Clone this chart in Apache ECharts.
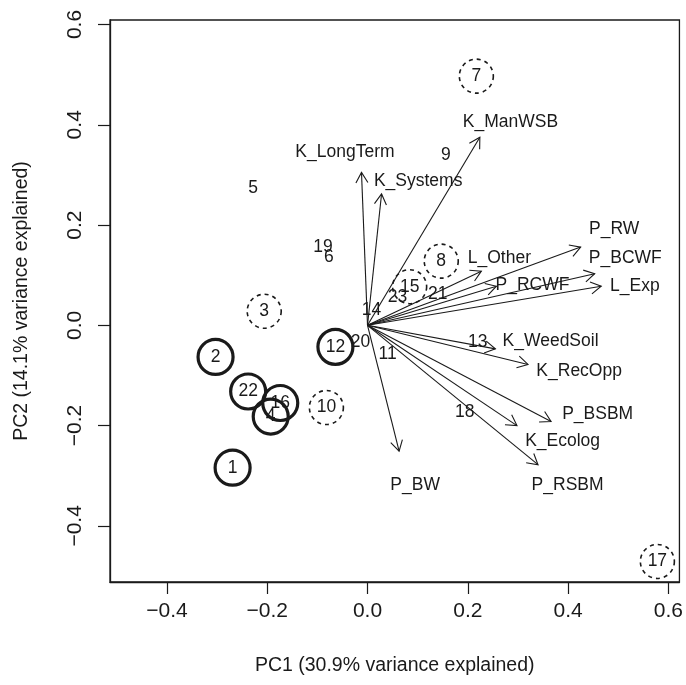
<!DOCTYPE html>
<html>
<head>
<meta charset="utf-8">
<script src="https://cdn.jsdelivr.net/npm/echarts@6/dist/echarts.min.js"></script>
<style>
html,body{margin:0;padding:0;background:#fff;}
#chart{width:686px;height:685px;}
</style>
</head>
<body>
<div id="chart"></div>
<script>
// ---- sample scores (PC1, PC2) ----
var sampleIds = ['1','2','3','4','5','6','7','8','9','10','11','12','13','14','15','16','17','18','19','20','21','22','23'];
var samplePC1 = [-0.269,-0.303,-0.206,-0.193,-0.228,-0.077,0.217,0.147,0.156,-0.082,0.040,-0.064,0.220,0.008,0.084,-0.174,0.578,0.194,-0.089,-0.014,0.140,-0.238,0.060];
var samplePC2 = [-0.284,-0.063,0.028,-0.182,0.274,0.135,0.497,0.128,0.340,-0.164,-0.058,-0.043,-0.033,0.031,0.077,-0.155,-0.471,-0.174,0.155,-0.033,0.063,-0.132,0.057];
// circled groups
var solidCircled = ['1','2','4','12','16','22'];
var dashedCircled = ['3','7','8','10','15','17'];

// ---- variable loadings (arrow tips) and label positions ----
var varNames  = ['K_LongTerm','K_Systems','K_ManWSB','L_Other','P_RW','P_BCWF','L_Exp','P_RCWF','K_WeedSoil','K_RecOpp','P_BSBM','K_Ecolog','P_RSBM','P_BW'];
var varTipX   = [-0.012,0.028,0.224,0.227,0.425,0.453,0.466,0.257,0.255,0.320,0.366,0.298,0.340,0.063];
var varTipY   = [0.305,0.262,0.375,0.108,0.156,0.103,0.078,0.078,-0.047,-0.078,-0.192,-0.200,-0.278,-0.251];
var varLabX   = [-0.045,0.101,0.285,0.263,0.492,0.514,0.533,0.329,0.365,0.422,0.459,0.389,0.399,0.095];
var varLabY   = [0.345,0.287,0.405,0.134,0.191,0.134,0.078,0.081,-0.032,-0.092,-0.178,-0.231,-0.318,-0.318];

// ---- axis ticks ----
var xTicks = [-0.4,-0.2,0.0,0.2,0.4,0.6];
var yTicks = [-0.4,-0.2,0.0,0.2,0.4,0.6];
var xTitle = 'PC1 (30.9% variance explained)';
var yTitle = 'PC2 (14.1% variance explained)';

var FONT = '"Liberation Sans", Arial, Helvetica, sans-serif';
var INK = '#1a1a1a';
var FS = 17.5;   // text inside the plot
var TFS = 21;    // tick labels
var NFS = 19.5;  // axis titles

function fmt(v){
  var s = Math.abs(v).toFixed(1);
  return (v < -1e-9 ? '\u2212' : '') + s;
}

var sampleData = sampleIds.map(function(id,i){ return {name:id, value:[samplePC1[i], samplePC2[i]]}; });
function pick(list){ return sampleData.filter(function(d){ return list.indexOf(d.name) >= 0; }); }
var arrowData = varNames.map(function(n,i){ return {name:n, value:[varTipX[i], varTipY[i]]}; });
var varLabelData = varNames.map(function(n,i){ return {name:n, value:[varLabX[i], varLabY[i]]}; });

var textSeries = function(data){
  return {
    type:'scatter', data:data, symbol:'circle', symbolSize:1, z:3,
    itemStyle:{color:'rgba(0,0,0,0)', opacity:1},
    label:{show:true, position:'inside', formatter:'{b}', fontFamily:FONT, fontSize:FS, color:INK},
    emphasis:{disabled:true}
  };
};

var chart = echarts.init(document.getElementById('chart'), null, {renderer:'canvas'});
chart.setOption({
  animation:false,
  backgroundColor:'#fff',
  grid:{left:110, right:6, top:20, bottom:103, containLabel:false, show:true, borderColor:INK, borderWidth:1.3, backgroundColor:'transparent'},
  xAxis:{
    type:'value', min:-0.5135, max:0.622,
    name:xTitle, nameLocation:'middle', nameGap:74,
    nameTextStyle:{fontFamily:FONT, fontSize:NFS, color:INK},
    axisLine:{show:true, onZero:false, lineStyle:{color:INK, width:1.3}},
    axisTick:{show:true, length:12, customValues:xTicks, lineStyle:{color:INK, width:1.2}},
    axisLabel:{show:true, customValues:xTicks, margin:19, formatter:fmt, fontFamily:FONT, fontSize:TFS, color:INK},
    splitLine:{show:false}
  },
  yAxis:{
    type:'value', min:-0.512, max:0.609,
    name:yTitle, nameLocation:'middle', nameGap:78, nameRotate:90,
    nameTextStyle:{fontFamily:FONT, fontSize:NFS, color:INK},
    axisLine:{show:true, onZero:false, lineStyle:{color:INK, width:1.3}},
    axisTick:{show:true, length:12, customValues:yTicks, lineStyle:{color:INK, width:1.2}},
    axisLabel:{show:true, customValues:yTicks, margin:24, rotate:90, formatter:fmt, fontFamily:FONT, fontSize:TFS, color:INK},
    splitLine:{show:false}
  },
  series:[
    {
      type:'custom', coordinateSystem:'cartesian2d', data:arrowData, z:2,
      renderItem:function(params, api){
        var o = api.coord([0,0]);
        var t = api.coord([api.value(0), api.value(1)]);
        var ang = Math.atan2(t[1]-o[1], t[0]-o[0]);
        var L = 12, a = Math.PI/6;
        var p1 = [t[0]-L*Math.cos(ang-a), t[1]-L*Math.sin(ang-a)];
        var p2 = [t[0]-L*Math.cos(ang+a), t[1]-L*Math.sin(ang+a)];
        return {type:'group', children:[
          {type:'line', shape:{x1:o[0], y1:o[1], x2:t[0], y2:t[1]}, style:{stroke:INK, lineWidth:1.1}},
          {type:'polyline', shape:{points:[p1, t, p2]}, style:{stroke:INK, lineWidth:1.1, fill:null}}
        ]};
      }
    },
    textSeries(varLabelData),
    textSeries(sampleData),
    {
      type:'scatter', data:pick(solidCircled), symbol:'circle', symbolSize:35, z:4,
      itemStyle:{color:'rgba(0,0,0,0)', borderColor:INK, borderWidth:3.2, opacity:1},
      emphasis:{disabled:true}
    },
    {
      type:'scatter', data:pick(dashedCircled), symbol:'circle', symbolSize:34, z:4,
      itemStyle:{color:'rgba(0,0,0,0)', borderColor:INK, borderWidth:1.6, borderType:[4,4], opacity:1},
      emphasis:{disabled:true}
    }
  ]
});
</script>
</body>
</html>
